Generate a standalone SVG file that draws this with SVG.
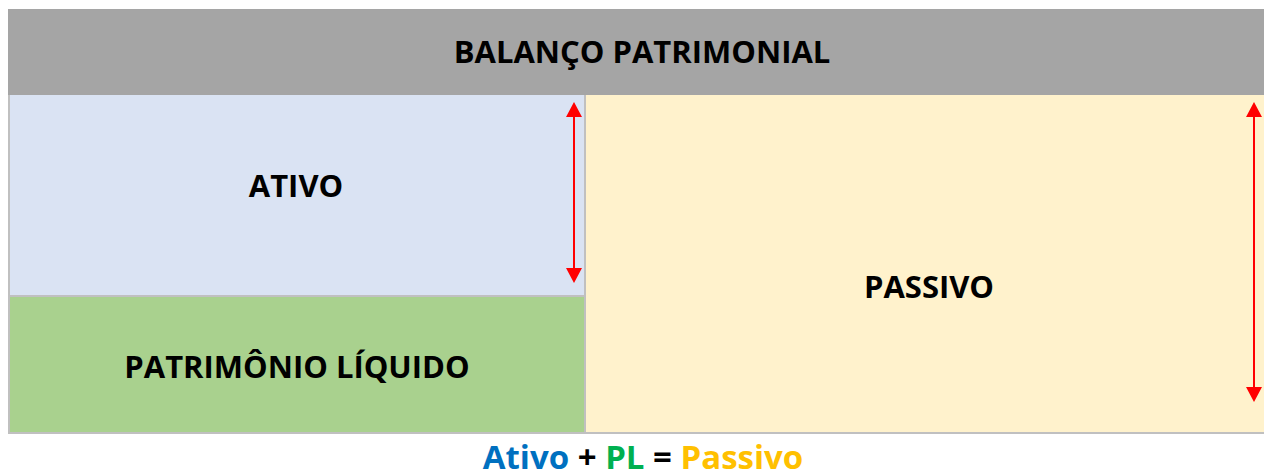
<svg xmlns="http://www.w3.org/2000/svg" width="1264" height="475" viewBox="0 0 1264 475">
<style>
.t{font-family:"Open Sans","Liberation Sans",sans-serif;font-weight:700;font-size:31px;fill:#000;text-anchor:middle}
.f{font-family:"Open Sans","Liberation Sans",sans-serif;font-weight:700;font-size:33px;text-anchor:middle}
.arr{stroke:#FF0000;stroke-width:2;fill:none}
</style>
<defs>
<marker id="ah" viewBox="0 0 15 16" refX="0" refY="8" markerWidth="15" markerHeight="16" markerUnits="userSpaceOnUse" orient="auto-start-reverse">
<path d="M0,0 L15,8 L0,16 Z" fill="#FF0000"/>
</marker>
</defs>
<rect width="1264" height="475" fill="#FFFFFF"/>
<g id="header">
<rect x="8" y="9" width="1256" height="86" fill="#A5A5A5"/>
<text class="t" x="642" y="63" font-size="31.5">BALANÇO PATRIMONIAL</text>
</g>
<rect x="8" y="95" width="1256" height="339" fill="#C0C0C0"/>
<g id="ativo">
<rect x="10" y="95" width="574" height="200" fill="#DAE3F3"/>
<text class="t" x="296" y="197">ATIVO</text>
</g>
<g id="pl">
<rect x="10" y="297" width="574" height="135" fill="#A9D18E"/>
<text class="t" x="297" y="378">PATRIMÔNIO LÍQUIDO</text>
</g>
<g id="passivo">
<rect x="586" y="95" width="678" height="337" fill="#FFF2CC"/>
<text class="t" x="929" y="298">PASSIVO</text>
</g>
<g id="connectors">
<line class="arr" x1="574" y1="117" x2="574" y2="268" marker-start="url(#ah)" marker-end="url(#ah)"/>
<line class="arr" x1="1254" y1="117" x2="1254" y2="387" marker-start="url(#ah)" marker-end="url(#ah)"/>
</g>
<g id="formula">
<text class="f" x="643" y="469"><tspan fill="#0070C0">Ativo</tspan><tspan fill="#000000"> + </tspan><tspan fill="#00B050">PL</tspan><tspan fill="#000000"> = </tspan><tspan fill="#FFC000">Passivo</tspan></text>
</g>
</svg>
